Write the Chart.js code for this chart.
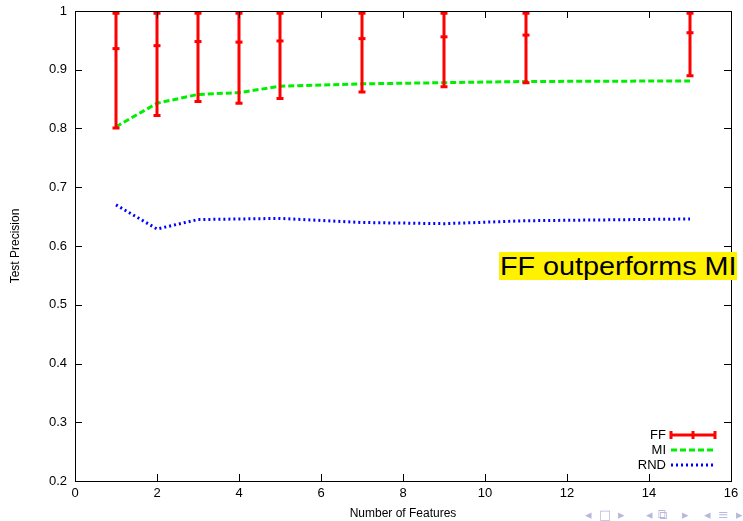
<!DOCTYPE html>
<html>
<head>
<meta charset="utf-8">
<script src="https://cdn.jsdelivr.net/npm/chart.js@4"></script>
<style>
  html, body { margin: 0; padding: 0; background: #fff; }
  #wrap { position: relative; width: 743px; height: 521px; overflow: hidden; }
  #note {
    position: absolute; left: 499px; top: 252px; height: 28px; width: 238px;
    background: #fff200; overflow: hidden;
  }
  #note span {
    display: inline-block; color: #000; font: 25px "Liberation Sans", Arial, sans-serif;
    line-height: 28px; white-space: nowrap; transform: scaleX(1.15); transform-origin: 0 50%;
    margin-left: 1px;
  }
  .nav {
    position: absolute; top: 507px; color: #b8b8da; line-height: 16px;
    font: 13px "DejaVu Sans", sans-serif; white-space: nowrap;
  }
</style>
</head>
<body>
<div id="wrap">
  <canvas id="myChart" width="743" height="521"></canvas>
  <div id="note"><span>FF outperforms MI</span></div>
  <span class="nav" style="left:585px">◂</span>
  <span class="nav" style="left:599px">□</span>
  <span class="nav" style="left:618px">▸</span>
  <span class="nav" style="left:646px">◂</span>
  <span class="nav" style="left:658px">⧉</span>
  <span class="nav" style="left:682px">▸</span>
  <span class="nav" style="left:704px">◂</span>
  <span class="nav" style="left:718px">≡</span>
  <span class="nav" style="left:736px">▸</span>
</div>
<script>
// values
const features = [1, 2, 3, 4, 5, 7, 9, 11, 15];
const ffMean = [0.936, 0.941, 0.948, 0.947, 0.949, 0.953, 0.956, 0.959, 0.963];
const ffLow = [0.801, 0.822, 0.846, 0.843, 0.851, 0.862, 0.871, 0.878, 0.890];
const ffHigh = [0.996, 0.996, 0.996, 0.996, 0.996, 0.996, 0.996, 0.996, 0.996];
const miValues = [0.803, 0.843, 0.858, 0.861, 0.872, 0.876, 0.878, 0.880, 0.881];
const rndValues = [0.670, 0.629, 0.645, 0.646, 0.647, 0.640, 0.638, 0.643, 0.646];
const xTicks = [0, 2, 4, 6, 8, 10, 12, 14, 16];
const yTicks = [0.2, 0.3, 0.4, 0.5, 0.6, 0.7, 0.8, 0.9, 1];

const font = '"Liberation Sans", Arial, sans-serif';
const red = '#ff0000';
const green = '#00ee00';
const blue = '#0000ff';

const toPoints = vals => features.map((x, i) => ({ x: x, y: vals[i] }));

// error bars for FF, drawn through the scales
const errorBars = {
    id: 'errorBars',
    afterDatasetsDraw(chart) {
        const ctx = chart.ctx;
        const xs = chart.scales.x, ys = chart.scales.y;
        ctx.save();
        ctx.strokeStyle = red;
        ctx.lineWidth = 3;
        features.forEach((f, i) => {
            const px = xs.getPixelForValue(f);
            const top = ys.getPixelForValue(ffHigh[i]);
            const bot = ys.getPixelForValue(ffLow[i]);
            ctx.beginPath();
            ctx.moveTo(px, top); ctx.lineTo(px, bot);
            ctx.moveTo(px - 3.5, top); ctx.lineTo(px + 3.5, top);
            ctx.moveTo(px - 3.5, bot); ctx.lineTo(px + 3.5, bot);
            ctx.stroke();
        });
        ctx.restore();
    }
};

// gnuplot style frame with inward ticks, plus the legend entries
const frame = {
    id: 'frame',
    afterDraw(chart) {
        const ctx = chart.ctx;
        const a = chart.chartArea;
        const xs = chart.scales.x, ys = chart.scales.y;
        ctx.save();
        ctx.strokeStyle = '#000';
        ctx.lineWidth = 1;
        ctx.strokeRect(a.left + 0.5, a.top + 0.5, a.right - a.left, a.bottom - a.top);
        ctx.beginPath();
        xTicks.forEach(v => {
            const px = Math.round(xs.getPixelForValue(v)) + 0.5;
            ctx.moveTo(px, a.bottom); ctx.lineTo(px, a.bottom - 7);
            ctx.moveTo(px, a.top); ctx.lineTo(px, a.top + 7);
        });
        yTicks.forEach(v => {
            const py = Math.round(ys.getPixelForValue(v)) + 0.5;
            ctx.moveTo(a.left, py); ctx.lineTo(a.left + 7, py);
            ctx.moveTo(a.right, py); ctx.lineTo(a.right - 7, py);
        });
        ctx.stroke();

        // legend
        ctx.font = '13px ' + font;
        ctx.fillStyle = '#000';
        ctx.textAlign = 'right';
        ctx.textBaseline = 'middle';
        const lx = 666, s0 = 671, s1 = 715;
        ctx.fillText('FF', lx, 435);
        ctx.fillText('MI', lx, 450);
        ctx.fillText('RND', lx, 465);

        ctx.strokeStyle = red;
        ctx.lineWidth = 3;
        ctx.beginPath();
        ctx.moveTo(s0, 435); ctx.lineTo(s1, 435);
        [s0, (s0 + s1) / 2, s1].forEach(x => { ctx.moveTo(x, 431); ctx.lineTo(x, 439); });
        ctx.stroke();

        ctx.strokeStyle = green;
        ctx.lineWidth = 3;
        ctx.setLineDash([6, 3]);
        ctx.beginPath(); ctx.moveTo(s0, 450); ctx.lineTo(s1, 450); ctx.stroke();

        ctx.strokeStyle = blue;
        ctx.lineWidth = 3;
        ctx.setLineDash([2, 3]);
        ctx.beginPath(); ctx.moveTo(s0, 465); ctx.lineTo(s1, 465); ctx.stroke();
        ctx.restore();
    }
};

const ctx = document.getElementById('myChart');
const chart = new Chart(ctx, {
    type: 'line',
    data: {
        datasets: [
            {
                label: 'FF',
                data: toPoints(ffMean),
                showLine: false,
                pointStyle: 'line',
                pointRadius: 3.5,
                borderColor: red,
                borderWidth: 3
            },
            {
                label: 'MI',
                data: toPoints(miValues),
                borderColor: green,
                borderWidth: 3,
                borderDash: [6, 3],
                pointRadius: 0,
                tension: 0
            },
            {
                label: 'RND',
                data: toPoints(rndValues),
                borderColor: blue,
                borderWidth: 3,
                borderDash: [2, 3],
                pointRadius: 0,
                tension: 0
            }
        ]
    },
    options: {
        responsive: false,
        animation: false,
        layout: { padding: { top: 11, right: 12, left: 0, bottom: 0 } },
        plugins: {
            legend: { display: false },
            tooltip: { enabled: false }
        },
        scales: {
            x: {
                type: 'linear',
                min: 0,
                max: 16,
                afterBuildTicks: s => { s.ticks = xTicks.map(v => ({ value: v })); },
                afterFit: s => { s.height = 40; s.paddingLeft = 0; s.paddingRight = 0; },
                grid: { display: false, drawTicks: false },
                border: { display: false },
                ticks: { color: '#000', font: { family: font, size: 13 }, padding: 5, maxRotation: 0 },
                title: {
                    display: true, text: 'Number of Features', color: '#000',
                    font: { family: font, size: 12 }, padding: { top: 1, bottom: 0 }
                }
            },
            y: {
                min: 0.2,
                max: 1,
                afterBuildTicks: s => { s.ticks = yTicks.map(v => ({ value: v })); },
                afterFit: s => { s.width = 75; s.paddingTop = 0; s.paddingBottom = 0; },
                grid: { display: false, drawTicks: false },
                border: { display: false },
                ticks: {
                    color: '#000', font: { family: font, size: 13 }, padding: 8,
                    callback: v => String(Math.round(v * 10) / 10)
                },
                title: {
                    display: true, text: 'Test Precision', color: '#000',
                    font: { family: font, size: 12 }, padding: { top: 8, bottom: 12 }
                }
            }
        }
    },
    plugins: [errorBars, frame]
});
</script>
</body>
</html>
